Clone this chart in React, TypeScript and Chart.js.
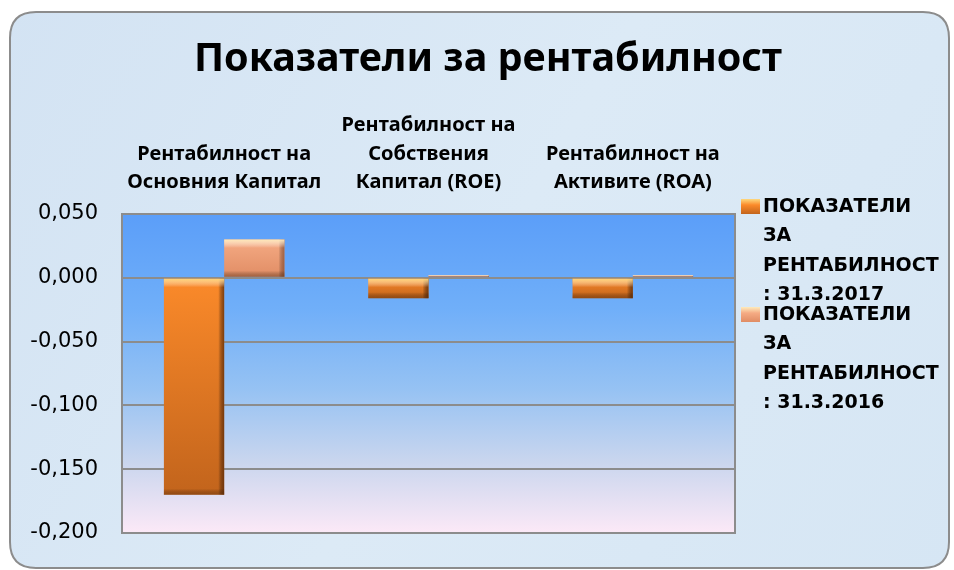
import React, { useEffect, useRef } from "react";
import { Chart, registerables } from "chart.js";

Chart.register(...registerables);

const chartTitle = "Показатели за рентабилност";
const categories: string[][] = [
  ["Рентабилност на", "Основния Капитал"],
  ["Рентабилност на", "Собствения", "Капитал (ROE)"],
  ["Рентабилност на", "Активите (ROA)"],
];
const series2017 = [-0.17, -0.016, -0.016];
const series2016 = [0.03, 0.002, 0.002];
const seriesLabels = [
  "ПОКАЗАТЕЛИ ЗА РЕНТАБИЛНОСТ : 31.3.2017",
  "ПОКАЗАТЕЛИ ЗА РЕНТАБИЛНОСТ : 31.3.2016",
];
const legendLines: string[][] = [
  ["ПОКАЗАТЕЛИ", "ЗА", "РЕНТАБИЛНОСТ", ": 31.3.2017"],
  ["ПОКАЗАТЕЛИ", "ЗА", "РЕНТАБИЛНОСТ", ": 31.3.2016"],
];
const yMin = -0.2;
const yMax = 0.05;
const yStep = 0.05;

const barColors = [
  { top: "#fb8a2a", bottom: "#c2641c", edge: "rgba(90,40,5,0.75)", hi: "rgba(255,215,120,0.95)" },
  { top: "#f5ab84", bottom: "#e08c64", edge: "rgba(120,60,30,0.6)", hi: "rgba(255,235,185,0.95)" },
];

const ok = (...v: number[]) => v.every((n) => Number.isFinite(n));

function roundRect(ctx: CanvasRenderingContext2D, x: number, y: number, w: number, h: number, r: number) {
  ctx.beginPath();
  ctx.moveTo(x + r, y);
  ctx.lineTo(x + w - r, y);
  ctx.quadraticCurveTo(x + w, y, x + w, y + r);
  ctx.lineTo(x + w, y + h - r);
  ctx.quadraticCurveTo(x + w, y + h, x + w - r, y + h);
  ctx.lineTo(x + r, y + h);
  ctx.quadraticCurveTo(x, y + h, x, y + h - r);
  ctx.lineTo(x, y + r);
  ctx.quadraticCurveTo(x, y, x + r, y);
  ctx.closePath();
}

const decorPlugin = {
  id: "decor",
  beforeDraw(chart: any) {
    const ctx: CanvasRenderingContext2D = chart.ctx;
    const ca = chart.chartArea;
    ctx.save();
    roundRect(ctx, 10, 12, 939, 556, 26);
    const pg = ctx.createLinearGradient(0, 12, 954, 568);
    pg.addColorStop(0, "#d3e3f3");
    pg.addColorStop(0.5, "#dceaf6");
    pg.addColorStop(1, "#d6e6f4");
    ctx.fillStyle = pg;
    ctx.fill();
    ctx.lineWidth = 2;
    ctx.strokeStyle = "#8c8c8c";
    ctx.stroke();
    if (ca && ok(ca.top, ca.bottom, ca.left, ca.right)) {
      const g = ctx.createLinearGradient(0, ca.top, 0, ca.bottom);
      g.addColorStop(0, "#5b9ef9");
      g.addColorStop(0.3, "#70aff9");
      g.addColorStop(0.55, "#96c2f3");
      g.addColorStop(0.78, "#cad6ee");
      g.addColorStop(1, "#fce9f7");
      ctx.fillStyle = g;
      ctx.fillRect(ca.left, ca.top, ca.right - ca.left, ca.bottom - ca.top);
    }
    // title
    ctx.font = "bold 39.5px 'Noto Sans'";
    ctx.fillStyle = "#000";
    ctx.textAlign = "center";
    ctx.textBaseline = "middle";
    ctx.fillText(chartTitle, 488, 60);
    ctx.restore();
  },
  beforeDatasetsDraw(chart: any) {
    const ctx: CanvasRenderingContext2D = chart.ctx;
    const ca = chart.chartArea;
    ctx.save();
    ctx.strokeStyle = "#8c8c8c";
    ctx.lineWidth = 2;
    ctx.strokeRect(ca.left, ca.top, ca.right - ca.left, ca.bottom - ca.top);
    ctx.restore();
  },
  afterDatasetsDraw(chart: any) {
    const ctx: CanvasRenderingContext2D = chart.ctx;
    ctx.save();
    chart.data.datasets.forEach((_ds: any, di: number) => {
      const meta = chart.getDatasetMeta(di);
      const c = barColors[di];
      meta.data.forEach((el: any) => {
        const w = el.width;
        if (!ok(w, el.x, el.y, el.base)) return;
        const left = el.x - w / 2;
        const right = el.x + w / 2;
        const top = Math.min(el.y, el.base);
        const bottom = Math.max(el.y, el.base);
        const h = bottom - top;
        const bev = Math.max(0.5, Math.min(6, h / 2));
        const rg = ctx.createLinearGradient(right - bev, 0, right, 0);
        rg.addColorStop(0, "rgba(0,0,0,0)");
        rg.addColorStop(1, c.edge);
        ctx.fillStyle = rg;
        ctx.fillRect(right - bev, top, bev, h);
        const tg = ctx.createLinearGradient(0, top, 0, top + bev * 1.4);
        tg.addColorStop(0, c.hi);
        tg.addColorStop(1, "rgba(255,255,255,0)");
        ctx.fillStyle = tg;
        ctx.fillRect(left, top, w, bev * 1.4);
        const bg = ctx.createLinearGradient(0, bottom - bev, 0, bottom);
        bg.addColorStop(0, "rgba(0,0,0,0)");
        bg.addColorStop(1, "rgba(90,45,10,0.45)");
        ctx.fillStyle = bg;
        ctx.fillRect(left, bottom - bev, w, bev);
      });
    });
    ctx.restore();
  },
  afterDraw(chart: any) {
    const ctx: CanvasRenderingContext2D = chart.ctx;
    ctx.save();
    ctx.font = "bold 19px 'DejaVu Sans'";
    ctx.textBaseline = "middle";
    ctx.textAlign = "left";
    const starts = [207, 315];
    chart.data.datasets.forEach((_ds: any, di: number) => {
      const y0 = starts[di];
      const c = barColors[di];
      const mg = ctx.createLinearGradient(0, y0 - 8, 0, y0 + 7);
      mg.addColorStop(0, c.hi);
      mg.addColorStop(0.4, c.top);
      mg.addColorStop(1, c.bottom);
      ctx.fillStyle = mg;
      ctx.fillRect(741, y0 - 8, 19, 15);
      ctx.fillStyle = "#000";
      legendLines[di].forEach((line, li) => {
        ctx.fillText(line, 763, y0 + li * 29.5);
      });
    });
    ctx.restore();
  },
};

function makeFill(di: number) {
  return (context: any) => {
    const chart = context.chart;
    const y = chart.scales?.y;
    const c = barColors[di];
    if (!y || context.type !== "data") return c.top;
    const v = context.raw as number;
    const p0 = y.getPixelForValue(0);
    const p1 = y.getPixelForValue(v);
    if (!ok(p0, p1) || Math.abs(p0 - p1) < 0.01) return c.top;
    const t = Math.min(p0, p1);
    const b = Math.max(p0, p1);
    const g = chart.ctx.createLinearGradient(0, t, 0, b);
    g.addColorStop(0, c.top);
    g.addColorStop(1, c.bottom);
    return g;
  };
}

export default function App() {
  const ref = useRef<HTMLCanvasElement | null>(null);
  useEffect(() => {
    if (!ref.current) return;
    const chart = new Chart(ref.current, {
      type: "bar",
      data: {
        labels: categories,
        datasets: [
          {
            label: seriesLabels[0],
            data: series2017,
            backgroundColor: makeFill(0),
            borderWidth: 0,
            categoryPercentage: 0.59,
            barPercentage: 1,
          },
          {
            label: seriesLabels[1],
            data: series2016,
            backgroundColor: makeFill(1),
            borderWidth: 0,
            categoryPercentage: 0.59,
            barPercentage: 1,
          },
        ],
      },
      options: {
        animation: false,
        responsive: false,
        layout: { padding: { left: 10, right: 219, top: 83.6, bottom: 37 } },
        plugins: {
          legend: { display: false },
          tooltip: { enabled: false },
          title: { display: false },
        },
        scales: {
          x: {
            position: "top",
            grid: { display: false },
            border: { display: false },
            ticks: {
              color: "#000",
              font: { family: "'Noto Sans'", size: 20, weight: "bold", lineHeight: 1.425 },
              padding: 9,
              maxRotation: 0,
              autoSkip: false,
            },
            afterFit: (s: any) => {
              s.height = 130.4;
            },
          },
          y: {
            min: yMin,
            max: yMax,
            grid: { color: "#8c8c8c", lineWidth: 2, drawTicks: false },
            border: { display: false },
            ticks: {
              stepSize: yStep,
              color: "#000",
              padding: 24,
              font: { family: "'DejaVu Sans'", size: 21 },
              callback: (v: any) => Number(v).toFixed(3).replace(".", ","),
            },
            afterFit: (s: any) => {
              s.width = 112;
            },
          },
        },
      },
      plugins: [decorPlugin],
    });
    return () => chart.destroy();
  }, []);
  return (
    <div style={{ position: "fixed", left: 0, top: 0, width: 954, height: 570, background: "#fff" }}>
      <canvas ref={ref} width={954} height={570} style={{ width: 954, height: 570, display: "block" }} />
    </div>
  );
}
